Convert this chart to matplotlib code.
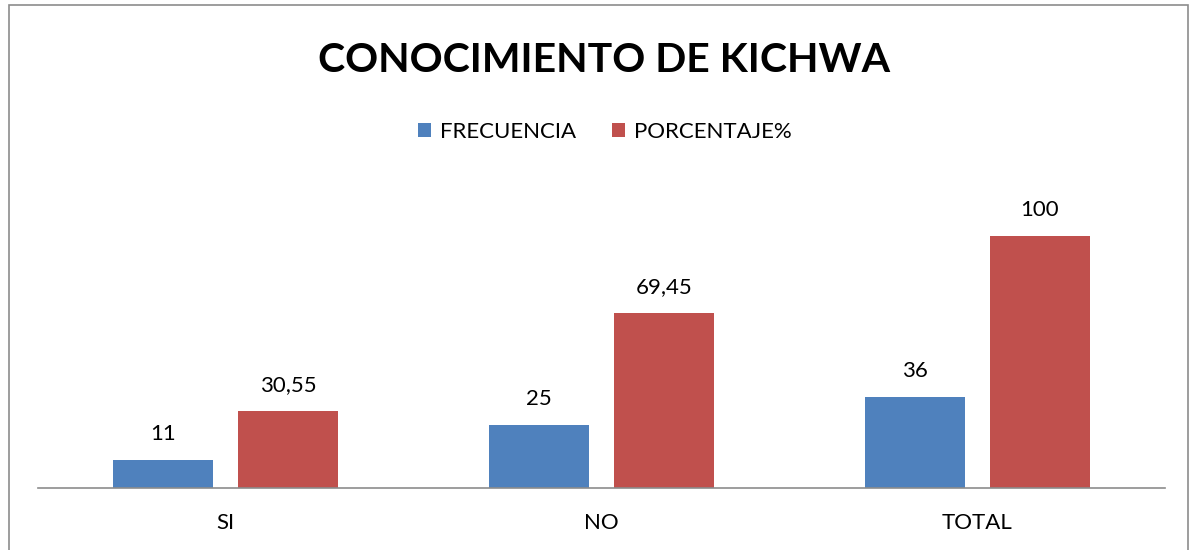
import matplotlib
matplotlib.use("Agg")
import matplotlib.pyplot as plt
import numpy as np
from matplotlib.patches import Rectangle

categories = ["SI", "NO", "TOTAL"]
frecuencia = [11, 25, 36]
porcentaje = [30.55, 69.45, 100]
frec_labels = ["11", "25", "36"]
porc_labels = ["30,55", "69,45", "100"]

BLUE = "#4F81BD"
RED = "#C0504D"

plt.rcParams["font.family"] = ["Lato", "DejaVu Sans"]

fig = plt.figure(figsize=(11.91, 5.5), dpi=100)
fig.patch.set_facecolor("white")

# outer chart border
fig.add_artist(Rectangle((9 / 1191, -0.01), 1179 / 1191, 1 - 5 / 550 + 0.01,
                         transform=fig.transFigure, fill=False,
                         edgecolor="#8c8c8c", linewidth=1.2))

ax = fig.add_axes([38 / 1191, 62 / 550, 1127 / 1191, 302 / 550])

x = np.arange(len(categories))
w = 0.266
gap = 0.0666
b1 = ax.bar(x - (w + gap) / 2, frecuencia, w, color=BLUE, label="FRECUENCIA")
b2 = ax.bar(x + (w + gap) / 2, porcentaje, w, color=RED, label="PORCENTAJE%")

for bars, labels in ((b1, frec_labels), (b2, porc_labels)):
    for bar, lab in zip(bars, labels):
        ax.annotate(lab, (bar.get_x() + bar.get_width() / 2, bar.get_height()),
                    xytext=(0, 19), textcoords="offset points",
                    ha="center", va="center", fontsize=16)

ax.set_xlim(-0.5, 2.5)
ax.set_ylim(0, 120)
ax.set_xticks(x)
ax.set_xticklabels(categories, fontsize=16)
ax.tick_params(axis="x", length=0, pad=18)
ax.set_yticks([])
for s in ("top", "right", "left"):
    ax.spines[s].set_visible(False)
ax.spines["bottom"].set_color("#8c8c8c")
ax.spines["bottom"].set_linewidth(1.2)

fig.text(0.507, 1 - 60 / 550, "CONOCIMIENTO DE KICHWA", ha="center", va="center",
         fontsize=29.5, fontweight="bold")

fig.legend(handles=[b1, b2], loc="center", bbox_to_anchor=(0.508, 1 - 132 / 550),
           ncol=2, frameon=False, fontsize=16, handlelength=0.6, handleheight=0.6,
           handletextpad=0.4, columnspacing=1.6)

fig.savefig("out.png", dpi=100, facecolor="white")
